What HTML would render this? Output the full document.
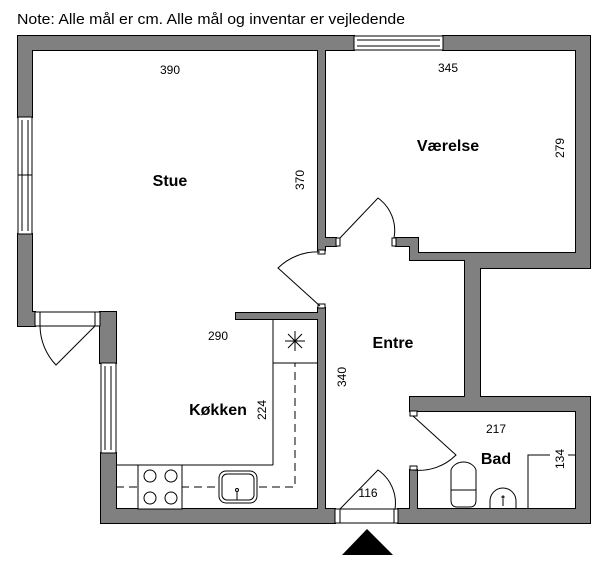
<!DOCTYPE html>
<html><head><meta charset="utf-8"><style>
html,body{margin:0;padding:0;background:#fff;}
svg{display:block;}
text{font-family:"Liberation Sans",sans-serif;fill:#000;}
.d{font-size:12px;}
.b{font-size:16px;font-weight:bold;}
</style></head><body>
<svg width="600" height="563" viewBox="0 0 600 563" xmlns="http://www.w3.org/2000/svg">
<defs>
<g id="walls">
<rect x="18" y="36" width="336" height="14"/>
<rect x="443" y="36" width="147" height="14"/>
<rect x="18" y="50" width="14" height="67"/>
<rect x="18" y="234" width="14" height="92"/>
<rect x="18" y="312" width="17" height="14"/>
<rect x="576" y="36" width="14" height="232"/>
<rect x="410" y="253" width="60" height="7"/>
<rect x="465" y="253" width="125" height="15"/>
<rect x="410" y="240" width="8" height="20"/>
<rect x="396" y="238" width="22" height="8"/>
<rect x="465" y="253" width="15" height="158"/>
<rect x="410" y="397" width="180" height="14"/>
<rect x="576" y="397" width="14" height="126"/>
<rect x="318" y="36" width="7" height="214"/>
<rect x="318" y="238" width="18" height="8"/>
<rect x="318" y="308" width="7" height="215"/>
<rect x="236" y="313" width="89" height="6"/>
<rect x="100" y="312" width="16" height="51"/>
<rect x="101" y="453" width="15" height="70"/>
<rect x="101" y="509" width="234" height="14"/>
<rect x="398" y="509" width="192" height="14"/>
<rect x="410" y="470" width="7" height="53"/>
</g>
</defs>
<text x="17" y="24" font-size="15" textLength="388" lengthAdjust="spacingAndGlyphs">Note: Alle mål er cm. Alle mål og inventar er vejledende</text>
<use href="#walls" fill="#000" stroke="#000" stroke-width="2"/>
<use href="#walls" fill="#808080" stroke="none"/>
<g fill="#fff" stroke="#000" stroke-width="1">
<rect x="354" y="36" width="89" height="14"/>
<line x1="357" y1="40" x2="440" y2="40"/><line x1="357" y1="46" x2="440" y2="46"/>
<rect x="18" y="117" width="14" height="117"/>
<line x1="22" y1="120" x2="22" y2="231"/><line x1="28" y1="120" x2="28" y2="231"/>
<line x1="18" y1="175" x2="32" y2="175"/>
<rect x="101" y="363" width="15" height="90"/>
<line x1="105" y1="366" x2="105" y2="450"/><line x1="111" y1="366" x2="111" y2="450"/>
<rect x="336" y="238" width="4" height="8"/>
<rect x="392" y="238" width="4" height="8"/>
<rect x="318" y="250" width="7" height="4"/>
<rect x="318" y="304" width="7" height="4"/>
<rect x="410" y="411" width="7" height="5"/>
<rect x="410" y="466" width="7" height="4"/>
<rect x="35" y="312" width="65" height="14"/>
<line x1="40" y1="312" x2="40" y2="326"/><line x1="95" y1="312" x2="95" y2="326"/>
<rect x="335" y="509" width="63" height="14"/>
<line x1="340" y1="509" x2="340" y2="523"/><line x1="394" y1="509" x2="394" y2="523"/>
</g>
<g fill="none" stroke="#000" stroke-width="1">
<path d="M340,238 L378,198 A40,40 0 0 1 394,238"/>
<path d="M320,306 L278,268 A56,56 0 0 1 320,252"/>
<path d="M413,416 L456,455 A52,52 0 0 1 413,470"/>
<path d="M340,509 L378,470 A40,40 0 0 1 395,509"/>
<path d="M95,326 L56,365 A58,58 0 0 1 40,326"/>
<line x1="273" y1="319" x2="273" y2="465"/>
<line x1="273" y1="363" x2="318" y2="363"/>
<line x1="116" y1="465" x2="273" y2="465"/>
<line x1="285" y1="341" x2="305" y2="341"/><line x1="295" y1="331" x2="295" y2="351"/>
<line x1="288" y1="334" x2="302" y2="348"/><line x1="302" y1="334" x2="288" y2="348"/>
<path d="M116,487 H295 V363" stroke-dasharray="8,5"/>
<rect x="138" y="465" width="44" height="44" fill="#fff"/>
<circle cx="150" cy="476" r="6"/><circle cx="171" cy="476" r="6"/>
<circle cx="150" cy="498" r="6"/><circle cx="171" cy="498" r="6"/>
<rect x="219" y="471" width="38" height="32" rx="7" fill="#fff"/>
<rect x="222" y="474" width="32" height="26" rx="5"/>
<circle cx="237" cy="490" r="1.5"/><line x1="237" y1="492" x2="237" y2="500"/>
<line x1="230" y1="500" x2="244" y2="500"/>
<path d="M451,470 A13,11 0 0 1 476,470 L476,500 Q476,507 470,507 L457,507 Q451,507 451,500 Z"/>
<line x1="451" y1="490" x2="476" y2="490"/>
<path d="M490,509 L490,501 A13,13 0 0 1 516,501 L516,509"/>
<circle cx="503" cy="497" r="1"/><line x1="503" y1="499" x2="503" y2="506"/>
<path d="M528,509 V455 H550"/>
<line x1="568" y1="455" x2="576" y2="455"/>
</g>
<polygon points="367,529 342,555 393,555" fill="#000"/>
<g class="d" text-anchor="middle">
<text x="170" y="74">390</text>
<text x="448" y="72">345</text>
<text x="218" y="340">290</text>
<text x="496" y="433">217</text>
<text x="368" y="497">116</text>
<text transform="translate(304,180) rotate(-90)">370</text>
<text transform="translate(564,148) rotate(-90)">279</text>
<text transform="translate(266,410) rotate(-90)">224</text>
<text transform="translate(346,377) rotate(-90)">340</text>
<text transform="translate(564,459) rotate(-90)">134</text>
</g>
<g class="b" text-anchor="middle">
<text x="170" y="186">Stue</text>
<text x="448" y="151">Værelse</text>
<text x="218" y="415">Køkken</text>
<text x="393" y="348">Entre</text>
<text x="496" y="464">Bad</text>
</g>
</svg>
</body></html>
